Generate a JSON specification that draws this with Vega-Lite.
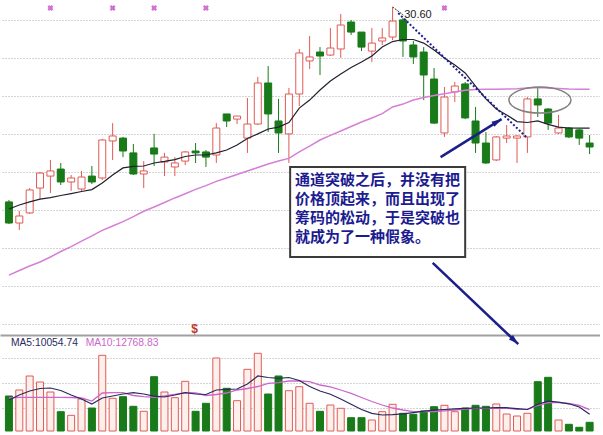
{
"$schema": "https://vega.github.io/schema/vega-lite/v6.json",
"background": "white",
"padding": 0,
"spacing": 2,
"bounds": "flush",
"config": {"view": {"stroke": null}, "axis": {"labels": false, "ticks": false, "domain": false, "grid": false, "minExtent": 0, "maxExtent": 0}},
"resolve": {"scale": {"x": "independent", "y": "independent"}},
"data": {"values": [
{"i":1,"o":20.34,"c":19.23,"h":20.44,"l":19.18,"v":21000,"m1":19.97,"m2":16.49,"v5":18600,"v10":19800},
{"i":2,"o":19.23,"c":19.60,"h":19.86,"l":18.86,"v":24600,"m1":20.18,"m2":16.73,"v5":21600,"v10":20220},
{"i":3,"o":19.76,"c":20.97,"h":21.07,"l":19.70,"v":33000,"m1":20.34,"m2":16.97,"v5":24000,"v10":20220},
{"i":4,"o":21.07,"c":21.86,"h":21.92,"l":20.49,"v":29400,"m1":20.49,"m2":17.18,"v5":25500,"v10":20220},
{"i":5,"o":21.70,"c":21.97,"h":22.55,"l":20.81,"v":23400,"m1":20.57,"m2":17.44,"v5":25800,"v10":20220},
{"i":6,"o":22.07,"c":21.39,"h":22.39,"l":21.23,"v":11580,"m1":20.68,"m2":17.73,"v5":24300,"v10":20220},
{"i":7,"o":21.39,"c":21.60,"h":21.76,"l":20.92,"v":9420,"m1":20.78,"m2":17.99,"v5":21600,"v10":20100},
{"i":8,"o":21.02,"c":21.65,"h":21.97,"l":20.92,"v":19200,"m1":20.89,"m2":18.28,"v5":19200,"v10":19800},
{"i":9,"o":21.70,"c":21.39,"h":22.23,"l":21.28,"v":13800,"m1":20.99,"m2":18.55,"v5":16200,"v10":18000},
{"i":10,"o":21.60,"c":23.60,"h":23.65,"l":21.49,"v":45420,"m1":21.34,"m2":18.84,"v5":19800,"v10":22800},
{"i":11,"o":23.55,"c":23.81,"h":24.49,"l":22.55,"v":19620,"m1":21.76,"m2":19.07,"v5":21000,"v10":22980},
{"i":12,"o":23.70,"c":23.02,"h":23.76,"l":22.70,"v":20580,"m1":22.13,"m2":19.30,"v5":22200,"v10":22980},
{"i":13,"o":22.92,"c":21.81,"h":23.39,"l":21.76,"v":14820,"m1":22.21,"m2":19.57,"v5":22980,"v10":21300},
{"i":14,"o":21.81,"c":21.97,"h":22.49,"l":21.07,"v":11820,"m1":22.23,"m2":19.85,"v5":22200,"v10":20580},
{"i":15,"o":23.18,"c":22.86,"h":23.92,"l":22.23,"v":32580,"m1":22.39,"m2":20.07,"v5":20880,"v10":20220},
{"i":16,"o":22.44,"c":22.70,"h":22.92,"l":21.70,"v":23400,"m1":22.47,"m2":20.31,"v5":20400,"v10":21000},
{"i":17,"o":22.18,"c":22.39,"h":22.70,"l":21.70,"v":19980,"m1":22.57,"m2":20.55,"v5":21600,"v10":22020},
{"i":18,"o":22.49,"c":22.97,"h":23.02,"l":22.28,"v":29820,"m1":22.73,"m2":20.77,"v5":22980,"v10":22980},
{"i":19,"o":23.02,"c":22.92,"h":23.44,"l":22.39,"v":11820,"m1":22.81,"m2":21.00,"v5":22200,"v10":22800},
{"i":20,"o":22.97,"c":22.70,"h":23.07,"l":22.18,"v":16620,"m1":22.81,"m2":21.20,"v5":21900,"v10":21300},
{"i":21,"o":22.81,"c":24.23,"h":24.49,"l":22.39,"v":43800,"m1":22.92,"m2":21.42,"v5":24600,"v10":21900},
{"i":22,"o":24.97,"c":24.60,"h":24.97,"l":24.28,"v":25620,"m1":23.07,"m2":21.60,"v5":25020,"v10":22800},
{"i":23,"o":24.70,"c":24.86,"h":24.86,"l":24.44,"v":18180,"m1":23.34,"m2":21.78,"v5":25200,"v10":24600},
{"i":24,"o":23.70,"c":24.44,"h":25.81,"l":22.92,"v":37020,"m1":23.68,"m2":21.97,"v5":28200,"v10":25500},
{"i":25,"o":24.44,"c":26.60,"h":26.92,"l":24.39,"v":46620,"m1":23.92,"m2":22.15,"v5":33000,"v10":26700},
{"i":26,"o":26.60,"c":24.97,"h":27.49,"l":24.02,"v":22200,"m1":24.18,"m2":22.34,"v5":32100,"v10":28620},
{"i":27,"o":24.60,"c":23.97,"h":25.76,"l":22.92,"v":33000,"m1":24.28,"m2":22.49,"v5":31620,"v10":28980},
{"i":28,"o":23.92,"c":26.02,"h":26.34,"l":22.39,"v":24180,"m1":24.52,"m2":22.63,"v5":32100,"v10":30000},
{"i":29,"o":26.02,"c":28.18,"h":28.39,"l":25.39,"v":26580,"m1":25.28,"m2":22.97,"v5":30300,"v10":30000},
{"i":30,"o":27.76,"c":27.97,"h":29.07,"l":27.34,"v":16620,"m1":25.70,"m2":23.28,"v5":26700,"v10":29580},
{"i":31,"o":28.23,"c":28.02,"h":28.49,"l":27.02,"v":11820,"m1":26.23,"m2":23.60,"v5":24000,"v10":27600},
{"i":32,"o":28.07,"c":28.44,"h":29.49,"l":28.02,"v":15600,"m1":26.70,"m2":23.84,"v5":22020,"v10":26520},
{"i":33,"o":28.39,"c":29.65,"h":30.23,"l":27.92,"v":13620,"m1":27.07,"m2":24.07,"v5":19200,"v10":24600},
{"i":34,"o":29.81,"c":29.28,"h":29.92,"l":29.13,"v":7980,"m1":27.42,"m2":24.31,"v5":16020,"v10":22620},
{"i":35,"o":29.28,"c":28.49,"h":29.28,"l":28.28,"v":7980,"m1":27.70,"m2":24.55,"v5":12900,"v10":20100},
{"i":36,"o":28.28,"c":28.70,"h":29.49,"l":27.70,"v":6600,"m1":28.02,"m2":24.76,"v5":10620,"v10":17700},
{"i":37,"o":28.81,"c":28.97,"h":29.49,"l":28.60,"v":11580,"m1":28.49,"m2":24.99,"v5":9600,"v10":15600},
{"i":38,"o":29.02,"c":29.86,"h":30.60,"l":28.86,"v":16020,"m1":28.78,"m2":25.34,"v5":9780,"v10":13800},
{"i":39,"o":29.92,"c":28.81,"h":30.02,"l":27.97,"v":10620,"m1":28.89,"m2":25.49,"v5":10320,"v10":12600},
{"i":40,"o":28.60,"c":27.97,"h":28.81,"l":27.60,"v":10020,"m1":28.89,"m2":25.70,"v5":11040,"v10":11580},
{"i":41,"o":28.23,"c":27.02,"h":28.49,"l":25.70,"v":12000,"m1":28.70,"m2":25.84,"v5":11880,"v10":11580},
{"i":42,"o":26.81,"c":24.49,"h":27.39,"l":24.44,"v":14580,"m1":28.34,"m2":25.94,"v5":12480,"v10":11700},
{"i":43,"o":23.97,"c":25.86,"h":26.39,"l":23.76,"v":15420,"m1":27.92,"m2":26.03,"v5":12900,"v10":12120},
{"i":44,"o":26.13,"c":26.44,"h":26.65,"l":25.60,"v":11580,"m1":27.55,"m2":26.13,"v5":13320,"v10":12600},
{"i":45,"o":26.55,"c":24.76,"h":26.65,"l":24.70,"v":13800,"m1":27.13,"m2":26.22,"v5":13560,"v10":13200},
{"i":46,"o":24.60,"c":23.44,"h":25.34,"l":22.92,"v":15420,"m1":26.44,"m2":26.26,"v5":13800,"v10":13620},
{"i":47,"o":23.44,"c":22.39,"h":24.02,"l":22.34,"v":14820,"m1":25.76,"m2":26.27,"v5":13800,"v10":13620},
{"i":48,"o":22.55,"c":23.76,"h":23.81,"l":22.49,"v":16200,"m1":25.23,"m2":26.27,"v5":13980,"v10":13620},
{"i":49,"o":23.70,"c":23.81,"h":24.39,"l":23.44,"v":10200,"m1":24.92,"m2":26.28,"v5":13980,"v10":13620},
{"i":50,"o":23.70,"c":23.81,"h":23.86,"l":22.39,"v":9000,"m1":24.57,"m2":26.30,"v5":13380,"v10":13020},
{"i":51,"o":23.76,"c":25.76,"h":25.86,"l":22.92,"v":10620,"m1":24.52,"m2":26.34,"v5":12900,"v10":13020},
{"i":52,"o":25.76,"c":25.44,"h":26.39,"l":24.81,"v":29580,"m1":24.60,"m2":26.36,"v5":16020,"v10":15300},
{"i":53,"o":25.23,"c":24.49,"h":25.28,"l":24.13,"v":32220,"m1":24.42,"m2":26.34,"v5":17880,"v10":16980},
{"i":54,"o":23.97,"c":24.23,"h":24.92,"l":23.92,"v":6600,"m1":24.28,"m2":26.31,"v5":17280,"v10":16980},
{"i":55,"o":24.23,"c":23.76,"h":24.28,"l":23.70,"v":4020,"m1":24.23,"m2":26.28,"v5":16320,"v10":16500},
{"i":56,"o":24.13,"c":23.70,"h":24.18,"l":23.34,"v":2220,"m1":24.22,"m2":26.27,"v5":14400,"v10":15300},
{"i":57,"o":23.44,"c":23.23,"h":23.86,"l":22.86,"v":5220,"m1":24.22,"m2":26.27,"v5":10055,"v10":12769}
]},
"vconcat": [
{
"width": 600, "height": 335,
"layer": [
{"mark": {"type": "rule", "strokeWidth": 1},
 "encoding": {
  "x": {"field": "i", "type": "quantitative", "title": null, "scale": {"domain": [0.6207, 57.52], "nice": false, "zero": false}, "axis": {"orient": "bottom", "domain": true, "domainColor": "#a0a0a0", "domainWidth": 2}},
  "y": {"field": "l", "type": "quantitative", "title": null, "scale": {"domain": [13.336, 30.968], "nice": false, "zero": false}, "axis": {"orient": "right", "domain": true, "domainColor": "#999999", "domainWidth": 1, "grid": true, "gridColor": "#a8a8a8", "gridDash": [1, 2], "gridWidth": 1, "values": [29.92, 27.92, 25.92, 23.92, 21.92, 19.92, 17.92, 15.92, 13.92]}},
  "y2": {"field": "h"},
  "color": {"condition": {"test": "datum.c >= datum.o", "value": "#e05a55"}, "value": "#187a18"}
 }},
{"mark": {"type": "bar", "orient": "vertical", "width": 7, "strokeWidth": 1},
 "encoding": {
  "x": {"field": "i", "type": "quantitative", "title": null},
  "y": {"field": "o", "type": "quantitative", "title": null},
  "y2": {"field": "c"},
  "fill": {"condition": {"test": "datum.c >= datum.o", "value": "#ffffff"}, "value": "#187a18"},
  "stroke": {"condition": {"test": "datum.c >= datum.o", "value": "#e05a55"}, "value": "#187a18"}
 }},
{"mark": {"type": "line", "color": "#d67fd6", "strokeWidth": 1.5},
 "encoding": {"x": {"field": "i", "type": "quantitative", "title": null}, "y": {"field": "m2", "type": "quantitative", "title": null}}},
{"mark": {"type": "line", "color": "#20202e", "strokeWidth": 1.2},
 "encoding": {"x": {"field": "i", "type": "quantitative", "title": null}, "y": {"field": "m1", "type": "quantitative", "title": null}}},
{"data": {"values": [{"i": 5}, {"i": 11}, {"i": 15}, {"i": 20}, {"i": 43}]},
 "mark": {"type": "point", "shape": "cross", "angle": 45, "filled": true, "size": 36, "color": "#d070d0", "opacity": 1},
 "encoding": {"x": {"field": "i", "type": "quantitative", "title": null}, "y": {"datum": 30.55, "type": "quantitative"}}},
{"data": {"values": [{"x1": 38.55, "y1": 30.28, "x2": 50.88, "y2": 23.76}]},
 "mark": {"type": "rule", "color": "#1b1f8f", "strokeWidth": 2, "strokeDash": [2, 2]},
 "encoding": {"x": {"field": "x1", "type": "quantitative", "title": null}, "y": {"field": "y1", "type": "quantitative", "title": null}, "x2": {"field": "x2"}, "y2": {"field": "y2"}}},
{"data": {"values": [{"x1": 38.0, "y1": 30.60, "x2": 39.03, "y2": 30.18}]},
 "mark": {"type": "rule", "color": "#333333", "strokeWidth": 1, "strokeDash": [2, 1]},
 "encoding": {"x": {"field": "x1", "type": "quantitative", "title": null}, "y": {"field": "y1", "type": "quantitative", "title": null}, "x2": {"field": "x2"}, "y2": {"field": "y2"}}},
{"data": {"values": [{"x": 39.12, "y": 30.2, "t": "30.60"}]},
 "mark": {"type": "text", "align": "left", "baseline": "middle", "font": "Liberation Sans", "fontSize": 11, "color": "#222222"},
 "encoding": {"x": {"field": "x", "type": "quantitative", "title": null}, "y": {"field": "y", "type": "quantitative", "title": null}, "text": {"field": "t"}}},
{"data": {"values": [{"x": 52.21, "y": 25.70}]},
 "mark": {"type": "point", "shape": "M-1,0A1,0.42 0 1,1 1,0A1,0.42 0 1,1 -1,0Z", "size": 3844, "filled": false, "stroke": "#808080", "strokeWidth": 1.5, "opacity": 1},
 "encoding": {"x": {"field": "x", "type": "quantitative", "title": null}, "y": {"field": "y", "type": "quantitative", "title": null}}},
{"data": {"values": [{"x1": 42.63, "y1": 22.70, "x2": 48.51, "y2": 24.70}, {"x1": 41.87, "y1": 17.13, "x2": 50.12, "y2": 12.86}]},
 "mark": {"type": "rule", "color": "#1a1f8a", "strokeWidth": 2.5},
 "encoding": {"x": {"field": "x1", "type": "quantitative", "title": null}, "y": {"field": "y1", "type": "quantitative", "title": null}, "x2": {"field": "x2"}, "y2": {"field": "y2"}}},
{"data": {"values": [{"x": 48.51, "y": 24.70, "a": 58.5}, {"x": 50.12, "y": 12.86, "a": 133}]},
 "mark": {"type": "point", "shape": "M0,0L0.6,2L-0.6,2Z", "size": 100, "filled": true, "color": "#1a1f8a", "opacity": 1},
 "encoding": {"x": {"field": "x", "type": "quantitative", "title": null}, "y": {"field": "y", "type": "quantitative", "title": null}, "angle": {"field": "a", "type": "quantitative", "scale": null}}},
{"data": {"values": [{"x1": 28.12, "x2": 45.0, "y1": 22.18, "y2": 17.44}]},
 "mark": {"type": "rect", "fill": "#ffffff", "stroke": "#3a3a3a", "strokeWidth": 2},
 "encoding": {"x": {"field": "x1", "type": "quantitative", "title": null}, "x2": {"field": "x2"}, "y": {"field": "y1", "type": "quantitative", "title": null}, "y2": {"field": "y2"}}},
{"data": {"values": [{"x": 28.6, "y": 21.84, "t": "通道突破之后，并没有把\n价格顶起来，而且出现了\n筹码的松动，于是突破也\n就成为了一种假象。"}]},
 "mark": {"type": "text", "align": "left", "baseline": "top", "lineBreak": "\n", "lineHeight": 19, "font": "Noto Sans CJK SC", "fontSize": 15, "fontWeight": "bold", "color": "#1c1c90"},
 "encoding": {"x": {"field": "x", "type": "quantitative", "title": null}, "y": {"field": "y", "type": "quantitative", "title": null}, "text": {"field": "t"}}},
{"data": {"values": [{"x": 18.9, "y": 13.63, "t": "$"}]},
 "mark": {"type": "text", "align": "center", "baseline": "middle", "font": "Liberation Sans", "fontSize": 12, "fontWeight": "bold", "color": "#c0392b"},
 "encoding": {"x": {"field": "x", "type": "quantitative", "title": null}, "y": {"field": "y", "type": "quantitative", "title": null}, "text": {"field": "t"}}}
]
},
{
"width": 600, "height": 94,
"layer": [
{"mark": {"type": "bar", "orient": "vertical", "width": 7, "strokeWidth": 1},
 "encoding": {
  "x": {"field": "i", "type": "quantitative", "title": null, "scale": {"domain": [0.6207, 57.52], "nice": false, "zero": false}},
  "y": {"field": "v", "type": "quantitative", "title": null, "stack": null, "scale": {"domain": [0, 56400], "nice": false}, "axis": {"orient": "right", "grid": true, "gridColor": "#a8a8a8", "gridDash": [1, 2], "gridWidth": 1, "values": [13800, 28800, 43800]}},
  "fill": {"condition": {"test": "datum.c >= datum.o", "value": "#fdf0ec"}, "value": "#187a18"},
  "stroke": {"condition": {"test": "datum.c >= datum.o", "value": "#e05a55"}, "value": "#187a18"}
 }},
{"mark": {"type": "line", "color": "#cc66cc", "strokeWidth": 1.3},
 "encoding": {"x": {"field": "i", "type": "quantitative", "title": null}, "y": {"field": "v10", "type": "quantitative", "title": null}}},
{"mark": {"type": "line", "color": "#2a2a5e", "strokeWidth": 1.2},
 "encoding": {"x": {"field": "i", "type": "quantitative", "title": null}, "y": {"field": "v5", "type": "quantitative", "title": null}}},
{"data": {"values": [{"x": 1.19, "y": 52980, "t": "MA5:10054.74", "k": "a"}, {"x": 8.4, "y": 52980, "t": "MA10:12768.83", "k": "b"}]},
 "mark": {"type": "text", "align": "left", "baseline": "middle", "font": "Liberation Sans", "fontSize": 10.3},
 "encoding": {"x": {"field": "x", "type": "quantitative", "title": null}, "y": {"field": "y", "type": "quantitative", "title": null}, "text": {"field": "t"},
  "color": {"field": "k", "type": "nominal", "scale": {"domain": ["a", "b"], "range": ["#2a2a5e", "#cc66cc"]}, "legend": null}}}
]
}
]
}
